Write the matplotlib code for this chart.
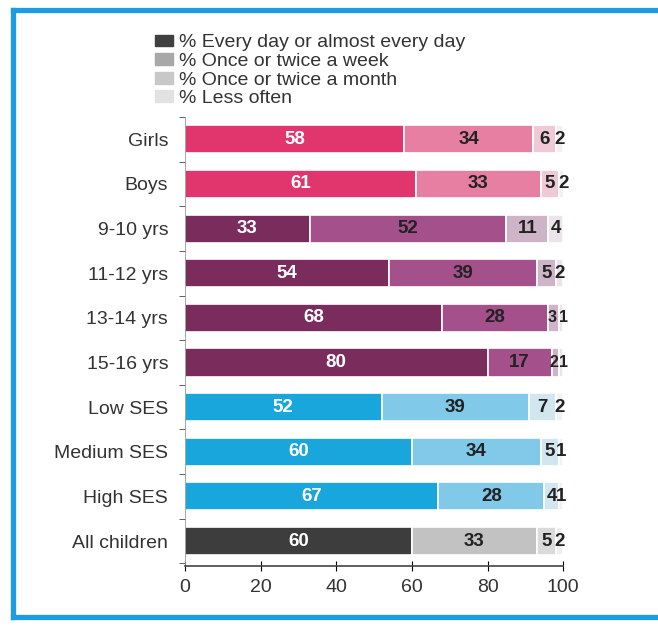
import matplotlib.pyplot as plt
from matplotlib.patches import Patch
from matplotlib.lines import Line2D
import numpy as np

plt.rcParams["font.family"] = ["Liberation Sans", "DejaVu Sans"]

categories = ["Girls", "Boys", "9-10 yrs", "11-12 yrs", "13-14 yrs",
              "15-16 yrs", "Low SES", "Medium SES", "High SES", "All children"]
every_day = [58, 61, 33, 54, 68, 80, 52, 60, 67, 60]
weekly = [34, 33, 52, 39, 28, 17, 39, 34, 28, 33]
monthly = [6, 5, 11, 5, 3, 2, 7, 5, 4, 5]
less_often = [2, 2, 4, 2, 1, 1, 2, 1, 1, 2]
legend_labels = ["% Every day or almost every day", "% Once or twice a week",
                 "% Once or twice a month", "% Less often"]

# colour set per group: gender, age, SES, all
group_colors = {
    "gender": ["#e0356d", "#e77fa3", "#efcad6", "#f3eef0"],
    "age": ["#7a2d5d", "#a3508b", "#cdb5c7", "#ebe4ea"],
    "ses": ["#19a6dc", "#80c9e8", "#d2e6ef", "#eef3f5"],
    "all": ["#3d3d3d", "#c2c2c2", "#dadada", "#efefef"],
}
groups = ["gender"] * 2 + ["age"] * 4 + ["ses"] * 3 + ["all"]

fig = plt.figure(figsize=(6.58, 6.27), dpi=100)
ax = fig.add_axes([0.281, 0.0973, 0.575, 0.716])

y = np.arange(len(categories))[::-1]
series = [every_day, weekly, monthly, less_often]
left = np.zeros(len(categories))
for s, vals in enumerate(series):
    vals = np.array(vals, dtype=float)
    cols = [group_colors[g][s] for g in groups]
    ax.barh(y, vals, left=left, height=0.63, color=cols,
            edgecolor="white", linewidth=1.2)
    for i, (yi, l, v) in enumerate(zip(y, left, vals)):
        txt_col = "white" if s == 0 else "#222222"
        xpos = l + v / 2
        fs = 13.5
        if s >= 2 and monthly[i] <= 3:
            # rows with two tiny segments: squeeze the labels apart
            fs = 11.5
            xpos += -0.5 if s == 2 else 0.5
        ax.text(xpos, yi, f"{int(v)}", ha="center", va="center",
                color=txt_col, fontsize=fs, fontweight="bold")
    left += vals

ax.set_xlim(0, 100)
ax.set_ylim(-0.56, 9.5)
ax.set_yticks(y)
ax.set_yticklabels(categories, fontsize=14, color="#333333")
ax.set_yticks(np.arange(-0.5, 9.6, 1), minor=True)
ax.tick_params(axis="y", which="major", length=0, pad=12)
ax.tick_params(axis="y", which="minor", length=4, color="#444444")
ax.set_xticks([0, 20, 40, 60, 80, 100])
ax.tick_params(axis="x", direction="inout", length=7, labelsize=14,
               labelcolor="#333333", pad=6)
ax.spines["top"].set_visible(False)
ax.spines["right"].set_visible(False)
ax.spines["left"].set_color("#999999")
ax.spines["left"].set_linewidth(0.6)
ax.spines["bottom"].set_color("#444444")
ax.spines["bottom"].set_linewidth(1.2)

handles = [Patch(color=c) for c in ["#404040", "#a8a8a8", "#c8c8c8", "#e2e2e2"]]
fig.legend(handles, legend_labels, loc="upper left",
           bbox_to_anchor=(0.2356, 0.945), frameon=False, fontsize=14,
           borderpad=0, borderaxespad=0,
           handlelength=0.9, handleheight=0.55, handletextpad=0.35,
           labelspacing=0.08, labelcolor="#333333")

# blue frame around the chart (right side runs off the picture)
frame_kw = dict(color="#1b9ce3", linewidth=3.8, transform=fig.transFigure)
x0, yt, yb = 13 / 658, 1 - 10 / 627, 1 - 617 / 627
fig.add_artist(Line2D([x0, x0], [yb, yt], **frame_kw))
fig.add_artist(Line2D([x0, 1.05], [yt, yt], **frame_kw))
fig.add_artist(Line2D([x0, 1.05], [yb, yb], **frame_kw))

fig.savefig("out.png", dpi=100)
